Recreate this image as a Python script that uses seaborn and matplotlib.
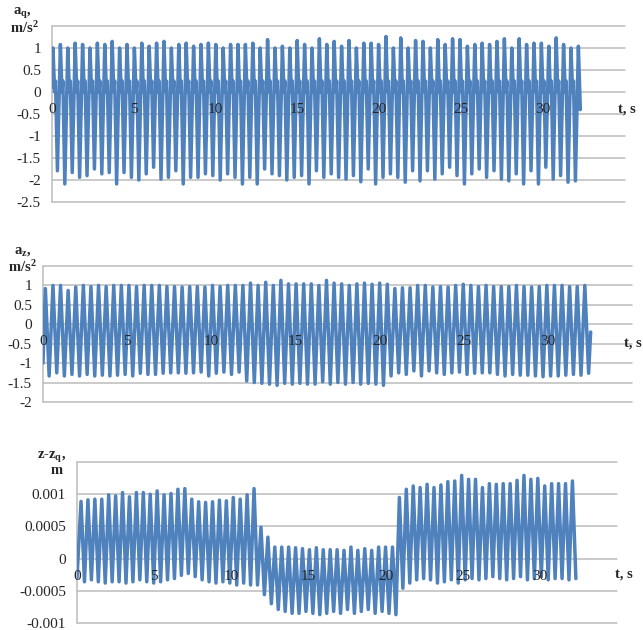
import numpy as np
import pandas as pd
import matplotlib
matplotlib.use("Agg")
import matplotlib.pyplot as plt
import seaborn as sns

sns.set_style("white")
plt.rcParams["font.family"] = ["Liberation Serif", "DejaVu Serif"]
plt.rcParams["mathtext.fontset"] = "custom"
plt.rcParams["mathtext.rm"] = "Liberation Serif"
plt.rcParams["mathtext.bf"] = "Liberation Serif:bold"
plt.rcParams["mathtext.it"] = "Liberation Serif:italic"

# ---------------- data: per-cycle extremes of each record ----------------
# a_q, m/s^2
aq_start = 0.1
aq_peaks = [1.0, 1.08, 1.0, 1.11, 1.08, 1.0, 1.11, 1.08, 1.15, 1.0,
            1.08, 1.0, 1.11, 1.04, 1.11, 1.15, 1.0, 1.08, 1.11, 1.04,
            1.08, 1.11, 1.08, 1.0, 1.08, 1.08, 1.08, 1.11, 1.0, 1.19,
            1.0, 1.04, 1.0, 1.17, 1.08, 1.0, 1.21, 1.08,
            1.15, 1.04, 1.17, 1.0, 1.11, 1.11, 1.08, 1.26, 1.0, 1.23,
            1.0, 1.17, 1.15, 1.0, 1.19, 1.08, 1.21, 1.19, 1.04, 1.08,
            1.11, 1.08, 1.15, 1.21, 1.0, 1.21, 1.08, 1.11, 1.11, 1.04,
            1.23, 1.08, 1.0, 1.04]
aq_troughs = [-1.79, -2.09, -1.83, -1.94, -1.9, -1.75, -1.86, -1.83, -2.09, -1.83,
              -1.94, -2.0, -1.86, -1.71, -1.98, -1.94, -1.79, -2.09, -1.94, -1.94,
              -1.86, -1.9, -2.0,
              -1.86, -1.94, -2.09, -1.94, -2.09, -1.75, -1.86, -1.9, -2.0, -1.94,
              -1.9, -2.09, -1.79, -1.94, -1.86, -1.94, -1.98, -1.9, -2.04, -1.75,
              -2.09, -1.94, -1.86, -1.94,
              -2.05, -1.79, -2.02, -1.79, -1.98, -1.86, -1.71, -1.9, -2.09, -1.86,
              -1.75, -1.94, -1.79, -1.98, -2.02, -1.86, -2.09, -1.79, -2.09, -1.71,
              -1.98, -1.9, -2.05, -2.02]
aq_notch = [(0.22, 0.0), (0.34, 0.25)]   # (phase, value) of the inner dip and hump
aq_end = -0.4

# a_z, m/s^2
az_start = -1.0
az_peaks = [0.92, 1.0, 1.0, 0.87, 0.96, 1.0, 0.97, 1.0, 0.97, 1.0,
            1.0, 1.0, 0.97, 1.0, 1.0, 1.0, 0.97, 0.97, 0.96, 0.97,
            0.97, 0.96, 1.0, 0.97, 1.0, 1.0, 1.0, 1.06, 1.0, 1.08,
            1.0, 1.13, 1.04, 1.04, 1.04,
            1.04, 1.0, 1.13, 1.06, 1.04, 1.0, 1.04, 1.06, 1.03, 1.06,
            1.03, 0.92, 0.94, 0.94, 1.0, 1.0, 0.96, 0.97, 0.96, 1.0,
            1.03, 1.0, 0.97, 1.0, 0.97, 0.97, 0.97, 1.0, 0.97, 0.96,
            0.97, 1.0, 1.0, 1.0, 0.97, 0.97, 1.0]
az_troughs = [-1.33, -1.25, -1.33, -1.29, -1.33, -1.29, -1.33, -1.31, -1.33, -1.31,
              -1.29, -1.33, -1.26, -1.29, -1.29, -1.26, -1.25, -1.25, -1.26, -1.25,
              -1.23, -1.33, -1.26, -1.23, -1.29, -1.23, -1.46, -1.5, -1.52, -1.54,
              -1.57, -1.52, -1.54, -1.52, -1.54,
              -1.54, -1.48, -1.54, -1.5, -1.54, -1.5, -1.54, -1.52, -1.54, -1.57,
              -1.33, -1.25, -1.29, -1.2, -1.33, -1.2, -1.25, -1.29, -1.25, -1.23,
              -1.29, -1.26, -1.25, -1.25, -1.29, -1.33, -1.29, -1.31, -1.31, -1.33,
              -1.35, -1.33, -1.33, -1.31, -1.29, -1.31, -1.26]
az_end = -0.2

# z - z_q, m
dz_start = -0.0003
dz_peaks = [0.000887, 0.000913, 0.000923, 0.000923, 0.00099, 0.000974, 0.001026, 0.000959,
            0.001026, 0.001026, 0.001, 0.001051, 0.00099, 0.00101, 0.001077, 0.001087,
            0.000923, 0.000882, 0.000872, 0.000882, 0.000908, 0.000897, 0.000949, 0.000923,
            0.00099, 0.001087, 0.000487, 0.000333, 0.000179, 0.000179, 0.000179, 0.000169,
            0.000154, 0.000138, 0.000169, 0.000138,
            0.000138, 0.000138, 0.000128, 0.000179, 0.000128, 0.000154, 0.000128, 0.000179,
            0.000179, 0.000179, 0.000949, 0.001077, 0.001128, 0.001103, 0.001154, 0.001103,
            0.001144, 0.001195, 0.001205, 0.001292, 0.001231, 0.001231, 0.001103, 0.001164,
            0.001154, 0.001164, 0.001164, 0.001215, 0.001292, 0.001231, 0.001246, 0.001128,
            0.001164, 0.001164, 0.001164, 0.001205]
dz_troughs = [-0.00036, -0.00033, -0.00036, -0.00038, -0.00036, -0.00036, -0.00038, -0.00036,
              -0.00033, -0.00036, -0.00038, -0.00036, -0.00033, -0.00031, -0.00026, -0.00023,
              -0.00028, -0.00033, -0.00036, -0.00038, -0.00036, -0.00038, -0.00041, -0.00038,
              -0.00041, -0.00041,
              -0.00056, -0.0007, -0.00079, -0.00082, -0.00085, -0.00085, -0.00082, -0.00085,
              -0.00087, -0.00085, -0.00082, -0.00085, -0.00079, -0.00085, -0.00082, -0.00079,
              -0.00085, -0.00082, -0.00085, -0.00087,
              -0.00046, -0.00038, -0.00033, -0.00031, -0.00033, -0.00038, -0.00036, -0.00033,
              -0.00038, -0.00033, -0.00031, -0.00033, -0.00031, -0.00028, -0.00031, -0.00033,
              -0.00031, -0.00028, -0.00033, -0.00031, -0.00028, -0.00033, -0.00031, -0.00031,
              -0.00033, -0.00031]

x_ticks = [0, 5, 10, 15, 20, 25, 30, 35]
x_tick_labels = ["0", "5", "10", "15", "20", "25", "30", ""]


def build_record(t_first, period, start, peaks, troughs, trough_phase,
                 inner=(), end=None):
    """Assemble the time series from the per-cycle extremes."""
    t, v = [0.0], [start]
    for i, pk in enumerate(peaks):
        tp = t_first + i * period
        t.append(tp)
        v.append(pk)
        if i < len(troughs):
            for ph, val in inner:
                t.append(tp + ph * period)
                v.append(val)
            t.append(tp + trough_phase * period)
            v.append(troughs[i])
    if end is not None:
        t.append(t[-1] + 0.12)
        v.append(end)
    return pd.DataFrame({"t": t, "value": v})


rec_aq = build_record(0.06, 0.452, aq_start, aq_peaks, aq_troughs, 0.6,
                      inner=aq_notch, end=aq_end)
rec_az = build_record(0.14, 0.4515, az_start, az_peaks, az_troughs, 0.5, end=az_end)
rec_dz = build_record(0.26, 0.4486, dz_start, dz_peaks, dz_troughs, 0.5)

W, H = 643, 630
fig = plt.figure(figsize=(W / 100, H / 100), dpi=100)

LINE = "#4f81bd"
GRID = "#bcbcbc"


def px_axes(left, top, right, bottom):
    return fig.add_axes([left / W, 1 - bottom / H, (right - left) / W, (bottom - top) / H])


def style_panel(ax, rec, yticks, ylabels):
    sns.lineplot(data=rec, x="t", y="value", ax=ax, color=LINE, lw=2.5,
                 estimator=None, sort=False, zorder=2)
    ax.set_xlim(0, 35)
    ax.set_ylim(yticks[0], yticks[-1])
    for yv in yticks:
        ax.axhline(yv, color=GRID, lw=1.1, zorder=0, clip_on=False)
    ax.axvline(0, color=GRID, lw=1.1, zorder=0, clip_on=False)
    for s in ax.spines.values():
        s.set_visible(False)
    ax.spines["bottom"].set_position(("data", 0))
    ax.set_xticks(x_ticks)
    ax.set_xticklabels(x_tick_labels)
    ax.set_yticks(yticks)
    ax.set_yticklabels(ylabels)
    ax.tick_params(axis="x", length=3, width=1, color=GRID, pad=5, labelsize=11,
                   direction="out")
    ax.tick_params(axis="y", length=3, width=1, color=GRID, pad=5, labelsize=11,
                   direction="out")
    ax.set_axisbelow(False)
    ax.set_xlabel("")
    ax.set_ylabel("")
    ax.patch.set_alpha(0)


ax1 = px_axes(52, 26, 625, 202)
style_panel(ax1, rec_aq, [-2.5, -2, -1.5, -1, -0.5, 0, 0.5, 1, 1.5],
            ["-2.5", "-2", "-1.5", "-1", "-0.5", "0", "0.5", "1", ""])

ax2 = px_axes(43, 266, 632, 402)
style_panel(ax2, rec_az, [-2, -1.5, -1, -0.5, 0, 0.5, 1, 1.5],
            ["-2", "-1.5", "-1", "-0.5", "0", "0.5", "1", ""])

ax3 = px_axes(77, 462, 617, 623)
style_panel(ax3, rec_dz, [-0.001, -0.0005, 0, 0.0005, 0.001, 0.0015],
            ["-0.001", "-0.0005", "0", "0.0005", "0.001", ""])


def ftext(x, y, s, **kw):
    fig.text(x / W, 1 - y / H, s, ha="center", va="center", fontsize=10.5,
             fontweight="bold", **kw)


ftext(22, 13, r"$\mathbf{a_q}$,")
ftext(24, 28, r"$\mathbf{m/s^2}$")
ftext(23, 252, r"$\mathbf{a_z}$,")
ftext(22, 267, r"$\mathbf{m/s^2}$")
ftext(52, 457, r"z-$\mathbf{z_q}$,")
ftext(57, 470, "m")
ftext(627, 109, "t, s")
ftext(633, 343, "t, s")
ftext(624, 574, "t, s")

fig.savefig("out.png", dpi=100)
